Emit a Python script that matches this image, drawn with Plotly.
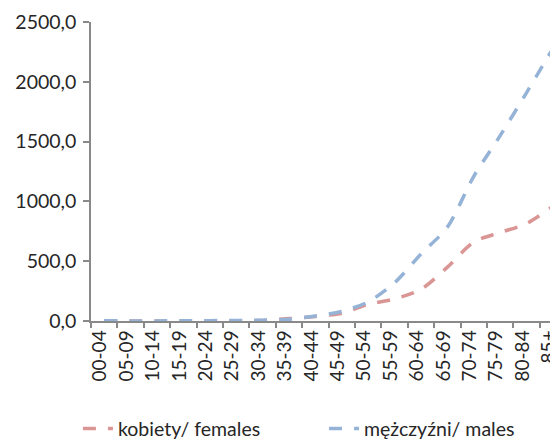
import plotly.graph_objects as go

age_groups = ["00-04", "05-09", "10-14", "15-19", "20-24", "25-29", "30-34", "35-39",
              "40-44", "45-49", "50-54", "55-59", "60-64", "65-69", "70-74", "75-79",
              "80-84", "85+"]
females = [1, 0.5, 0.5, 1, 1, 2, 5, 20, 38, 65, 140, 185, 265, 450, 660, 740, 815, 960]
males = [2, 1, 1, 2, 3, 4, 7, 15, 42, 80, 160, 320, 560, 785, 1210, 1550, 1910, 2280]
y_ticks = [0, 500, 1000, 1500, 2000, 2500]
y_tick_labels = ["0,0", "500,0", "1000,0", "1500,0", "2000,0", "2500,0"]

FONT = "Lato"
AXIS = "#898989"

fig = go.Figure()
fig.add_trace(go.Scatter(
    x=age_groups, y=females, name="kobiety/ females", mode="lines", legend="legend",
    line=dict(color="#DA9694", width=3.5, dash="13px,12px", shape="spline", smoothing=0.8),
))
fig.add_trace(go.Scatter(
    x=age_groups, y=males, name="mężczyźni/ males", mode="lines", legend="legend2",
    line=dict(color="#95B3D7", width=3.5, dash="13px,12px", shape="spline", smoothing=0.8),
))

legend_common = dict(orientation="h", y=-0.361, xanchor="left", yanchor="middle",
                     font=dict(size=19.5, family=FONT), bgcolor="rgba(0,0,0,0)")

fig.update_layout(
    width=550, height=434,
    margin=dict(l=83, r=0, t=14, b=121, autoexpand=False),
    paper_bgcolor="white", plot_bgcolor="white",
    font=dict(family=FONT, size=19.5, color="#262626"),
    showlegend=True,
    legend=dict(x=-0.028, **legend_common),
    legend2=dict(x=0.499, **legend_common),
    xaxis=dict(
        type="category", range=[-0.5, 17.19], tickson="boundaries", automargin=False,
        ticks="outside", ticklen=5, tickcolor=AXIS, tickwidth=1.5,
        showline=True, linecolor=AXIS, linewidth=1.5,
        showgrid=False, zeroline=False, tickangle=-90, ticklabelshift=-4,
        tickfont=dict(size=19, family=FONT),
    ),
    yaxis=dict(
        range=[0, 2500], tickvals=y_ticks, ticktext=y_tick_labels, automargin=False,
        ticks="outside", ticklen=6, tickcolor=AXIS, tickwidth=1.5,
        showline=True, linecolor=AXIS, linewidth=1.5,
        showgrid=False, zeroline=False, ticklabelstandoff=3,
        tickfont=dict(size=19.5, family=FONT),
    ),
)

fig.write_html("out.html")
